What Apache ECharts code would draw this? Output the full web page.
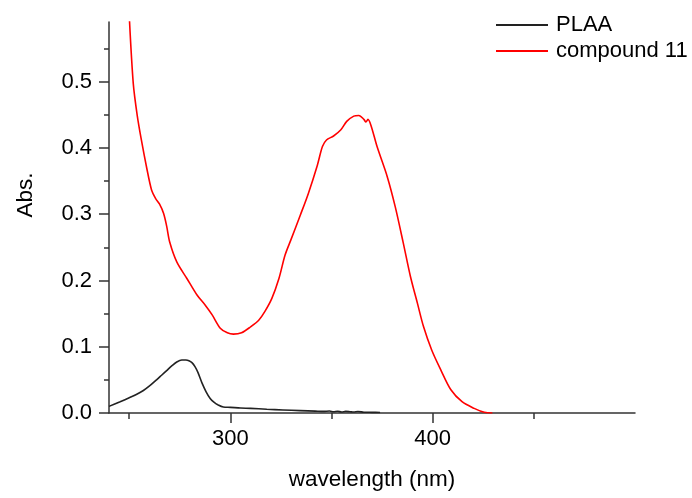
<!DOCTYPE html>
<html>
<head>
<meta charset="utf-8">
<title>UV-Vis absorption spectra</title>
<script src="https://cdn.jsdelivr.net/npm/echarts@6/dist/echarts.min.js"></script>
<style>
  html, body { margin: 0; padding: 0; background: #fff; }
  #chart { width: 692px; height: 498px; }
</style>
</head>
<body>
<div id="chart"></div>
<script>
// PLAA absorption spectrum (wavelength in nm, absorbance)
const plaaWl = [240, 245.5, 250, 253.5, 257, 260.5, 263.5, 266, 268.5, 271, 273.5, 276, 278, 279.5, 281, 282.5, 284, 286, 288, 290, 292, 294, 296.5, 300, 305, 310, 318, 326, 334.5, 342, 346, 349, 351, 353, 355, 357, 359, 361, 363, 366, 370, 374];
const plaaAbs = [0.010, 0.017, 0.023, 0.028, 0.034, 0.042, 0.050, 0.057, 0.064, 0.071, 0.077, 0.080, 0.080, 0.079, 0.076, 0.070, 0.061, 0.045, 0.032, 0.022, 0.016, 0.012, 0.009, 0.0085, 0.0075, 0.007, 0.0057, 0.0046, 0.0036, 0.0028, 0.0024, 0.0030, 0.0018, 0.0026, 0.0016, 0.0024, 0.0020, 0.0014, 0.0022, 0.0012, 0.0010, 0.0008];

// Compound 11 absorption spectrum
const cmpWl = [250, 252, 254, 256, 258.5, 261, 263, 265, 267, 268.5, 270, 273.5, 278.5, 283.5, 287.5, 291, 295, 298.5, 301.5, 305.5, 310, 314, 317, 320.5, 324, 327, 330, 334.5, 338.5, 343, 345.5, 347.5, 351, 354.5, 357.5, 361, 363.5, 366, 367, 368, 369.5, 372.5, 377.5, 381.5, 385.5, 389, 392.5, 395.5, 399.5, 404, 409, 414.5, 420.5, 425.5, 429.5];
const cmpAbs = [0.600, 0.497, 0.448, 0.412, 0.372, 0.337, 0.324, 0.315, 0.301, 0.282, 0.258, 0.228, 0.203, 0.178, 0.163, 0.148, 0.128, 0.121, 0.119, 0.121, 0.130, 0.140, 0.153, 0.173, 0.203, 0.238, 0.262, 0.298, 0.331, 0.374, 0.402, 0.412, 0.418, 0.427, 0.440, 0.448, 0.449, 0.443, 0.439, 0.443, 0.434, 0.402, 0.357, 0.311, 0.256, 0.206, 0.165, 0.130, 0.095, 0.065, 0.035, 0.017, 0.007, 0.001, 0.0];

// Axis ticks
const xMajorTicks = [300, 400];
const xMinorTicks = [250, 350, 450];
const yMajorTicks = [0, 0.1, 0.2, 0.3, 0.4, 0.5];
const yMinorTicks = [0.05, 0.15, 0.25, 0.35, 0.45, 0.55];

const seriesNames = ['PLAA', 'compound 11'];

const zip = (xs, ys) => xs.map((x, i) => [x, ys[i]]);

const FONT = '"Liberation Sans", Arial, sans-serif';
const AXIS_COLOR = '#333';
const TEXT_COLOR = '#000';

const chart = echarts.init(document.getElementById('chart'), null, { renderer: 'canvas' });

chart.setOption({
  animation: false,
  backgroundColor: '#fff',
  textStyle: { fontFamily: FONT },
  grid: { left: 109, right: 57, top: 22, bottom: 85, containLabel: false },
  legend: {
    orient: 'vertical',
    left: 496,
    top: 14,
    padding: 0,
    icon: 'rect',
    itemWidth: 52,
    itemHeight: 2,
    itemGap: 4,
    data: seriesNames,
    textStyle: { fontFamily: FONT, fontSize: 22, color: TEXT_COLOR, padding: [0, 0, 0, 3] }
  },
  xAxis: [
    {
      type: 'value', min: 240, max: 500, position: 'bottom',
      name: 'wavelength (nm)', nameLocation: 'middle', nameGap: 55,
      nameTextStyle: { fontFamily: FONT, fontSize: 22.5, color: TEXT_COLOR },
      splitLine: { show: false },
      axisLine: { show: true, onZero: false, lineStyle: { color: AXIS_COLOR, width: 1.5 } },
      axisTick: { show: true, customValues: xMajorTicks, length: 10, lineStyle: { color: AXIS_COLOR, width: 1.5 } },
      axisLabel: { customValues: xMajorTicks, margin: 15, fontFamily: FONT, fontSize: 22, color: TEXT_COLOR }
    },
    {
      type: 'value', min: 240, max: 500, position: 'bottom', gridIndex: 0,
      splitLine: { show: false },
      axisLine: { show: false, onZero: false },
      axisTick: { show: true, customValues: xMinorTicks, length: 6, lineStyle: { color: AXIS_COLOR, width: 1.5 } },
      axisLabel: { show: false }
    }
  ],
  yAxis: [
    {
      type: 'value', min: 0, max: 0.59, position: 'left',
      name: 'Abs.', nameLocation: 'middle', nameGap: 72, nameRotate: 90,
      nameTextStyle: { fontFamily: FONT, fontSize: 22.5, color: TEXT_COLOR, padding: [0, 0, 0, 45] },
      splitLine: { show: false },
      axisLine: { show: true, onZero: false, lineStyle: { color: AXIS_COLOR, width: 1.5 } },
      axisTick: { show: true, customValues: yMajorTicks, length: 10, lineStyle: { color: AXIS_COLOR, width: 1.5 } },
      axisLabel: {
        customValues: yMajorTicks, margin: 17, fontFamily: FONT, fontSize: 22, color: TEXT_COLOR,
        formatter: v => v.toFixed(1)
      }
    },
    {
      type: 'value', min: 0, max: 0.59, position: 'left', gridIndex: 0,
      splitLine: { show: false },
      axisLine: { show: false, onZero: false },
      axisTick: { show: true, customValues: yMinorTicks, length: 5, lineStyle: { color: AXIS_COLOR, width: 1.5 } },
      axisLabel: { show: false }
    }
  ],
  series: [
    {
      name: seriesNames[0], type: 'line', xAxisIndex: 0, yAxisIndex: 0,
      data: zip(plaaWl, plaaAbs), symbol: 'none', smooth: 0.3, clip: true,
      itemStyle: { color: '#222' },
      lineStyle: { color: '#222', width: 1.6 }
    },
    {
      name: seriesNames[1], type: 'line', xAxisIndex: 0, yAxisIndex: 0,
      data: zip(cmpWl, cmpAbs), symbol: 'none', smooth: 0.3, clip: true,
      itemStyle: { color: '#ff0000' },
      lineStyle: { color: '#ff0000', width: 1.6 }
    }
  ]
});
</script>
</body>
</html>
